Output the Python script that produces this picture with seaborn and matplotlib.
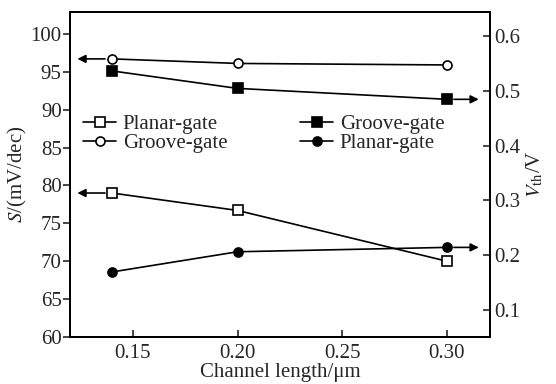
import matplotlib
matplotlib.use("Agg")
import matplotlib.pyplot as plt
import seaborn as sns

# ---------------------------------------------------------
# DATA
# ---------------------------------------------------------
channel_length = [0.14, 0.20, 0.30]

# subthreshold swing S (mV/dec), left axis
s_planar = [79.0, 76.7, 70.0]
s_groove = [96.7, 96.1, 95.9]

# threshold voltage Vth (V), right axis
vth_groove = [0.537, 0.505, 0.485]
vth_planar = [0.169, 0.206, 0.214]

s_ticks = [60, 65, 70, 75, 80, 85, 90, 95, 100]
vth_ticks = [0.1, 0.2, 0.3, 0.4, 0.5, 0.6]
x_ticks = [0.15, 0.20, 0.25, 0.30]
x_ticklabels = ["0.15", "0.20", "0.25", "0.30"]

# ---------------------------------------------------------
# STYLE
# ---------------------------------------------------------
sns.set_theme(style="white")
plt.rcParams['font.family'] = ['Liberation Serif', 'DejaVu Serif']
plt.rcParams['mathtext.fontset'] = 'stix'
FS = 15

fig = plt.figure(figsize=(5.56, 3.84), dpi=100)
ax = fig.add_axes([0.126, 0.1224, 0.755, 0.8466])
ax2 = ax.twinx()

line_kw = dict(color='black', linewidth=1.2, markersize=6.5,
               markeredgecolor='black', markeredgewidth=1.2)

# left axis: S
sns.lineplot(x=channel_length, y=s_planar, ax=ax, marker='s',
             markerfacecolor='white', label='Planar-gate', **line_kw)
sns.lineplot(x=channel_length, y=s_groove, ax=ax, marker='o',
             markerfacecolor='white', label='Groove-gate', **line_kw)

# right axis: Vth
sns.lineplot(x=channel_length, y=vth_groove, ax=ax2, marker='s',
             markerfacecolor='black', label='Groove-gate', **line_kw)
sns.lineplot(x=channel_length, y=vth_planar, ax=ax2, marker='o',
             markerfacecolor='black', label='Planar-gate', **line_kw)

xmin, xmax = 0.12, 0.3205
ax.set_xlim(xmin, xmax)
ax.set_ylim(60, 102.9)
ax2.set_ylim(0.05, 0.645)

ax.set_xticks(x_ticks)
ax.set_xticklabels(x_ticklabels)
ax.set_yticks(s_ticks)
ax2.set_yticks(vth_ticks)

ax.tick_params(axis='x', direction='in', length=5, width=1.2, labelsize=FS,
               bottom=True, top=False, pad=5)
ax.tick_params(axis='y', direction='out', length=5, width=1.2, labelsize=FS,
               left=True, pad=1)
ax2.tick_params(axis='y', direction='in', length=5, width=1.2, labelsize=FS,
                right=True, pad=3)

for a in (ax, ax2):
    for sp in a.spines.values():
        sp.set_color('black')
        sp.set_linewidth(1.3)

ax.set_xlabel('Channel length/\u03bcm', fontsize=FS, labelpad=0)
ax.set_ylabel('$S$/(mV/dec)', fontsize=FS, labelpad=1)
ax2.set_ylabel(r'$V_{\rm th}$/V', fontsize=FS, labelpad=3)

# arrows pointing to the axis each series belongs to
arrow_kw = dict(arrowstyle='-|>', color='black', lw=1.2,
                mutation_scale=12, shrinkA=5, shrinkB=0)
for yv in (s_groove[0], s_planar[0]):
    ax.annotate('', xy=(xmin + 0.0035, yv), xytext=(channel_length[0], yv),
                arrowprops=arrow_kw)
for yv in (vth_groove[-1], vth_planar[-1]):
    ax2.annotate('', xy=(xmax - 0.0053, yv), xytext=(channel_length[-1], yv),
                 arrowprops=arrow_kw)

# legends
leg_kw = dict(frameon=False, fontsize=FS, handlelength=1.6, handletextpad=0.3,
              labelspacing=0.0, borderpad=0, borderaxespad=0)
ax.legend(loc='upper left', bbox_to_anchor=(0.031, 0.685), **leg_kw)
ax2.legend(loc='upper left', bbox_to_anchor=(0.548, 0.685), **leg_kw)

fig.savefig('out.png', dpi=100)
